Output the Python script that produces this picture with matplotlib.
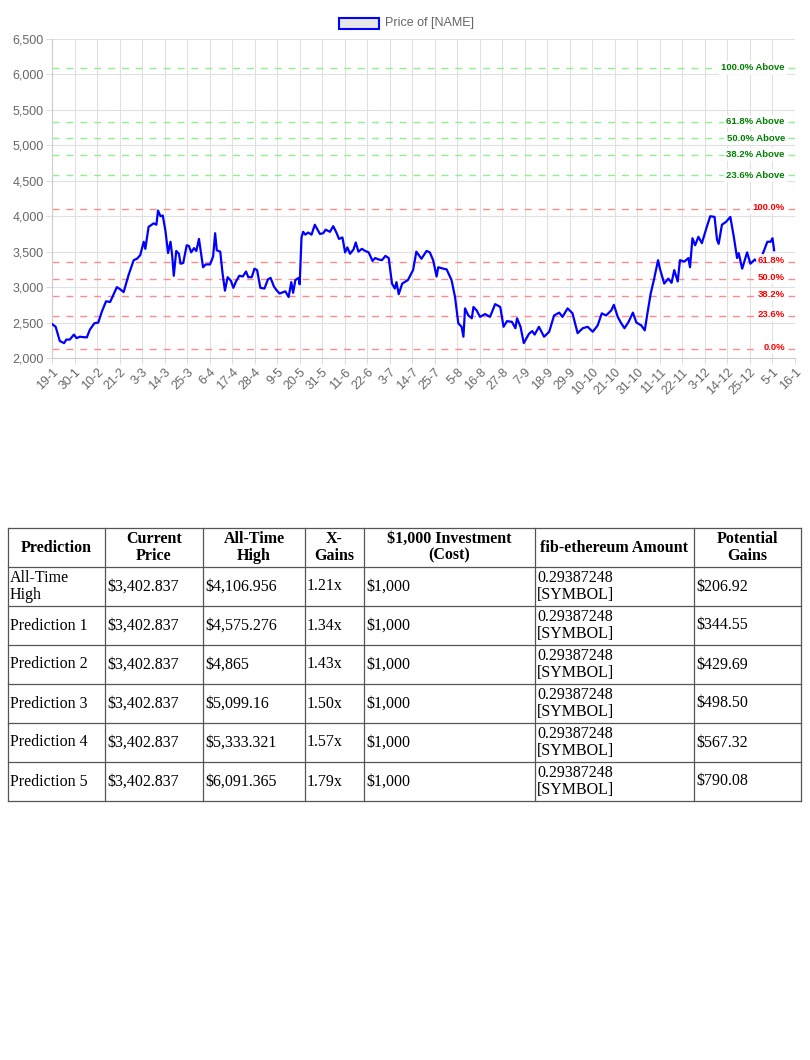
import matplotlib
matplotlib.use("Agg")
import matplotlib.pyplot as plt
from matplotlib.patches import Rectangle
from matplotlib.lines import Line2D

# ---------------- data ----------------
tick_labels = ["19-1","30-1","10-2","21-2","3-3","14-3","25-3","6-4","17-4","28-4","9-5","20-5",
               "31-5","11-6","22-6","3-7","14-7","25-7","5-8","16-8","27-8","7-9","18-9","29-9",
               "10-10","21-10","31-10","11-11","22-11","3-12","14-12","25-12","5-1","16-1"]
days = [0,1.8,3.8,5.9,7,8.7,10.7,12,13.6,17,18.5,20.7,22.6,24.3,26.4,28.4,31.7,33.3,35,37.4,39.9,
        41.5,43.1,44.8,45.6,47.2,49.7,51,51.8,53,54.1,55.4,56.7,57.9,58.7,59.5,60.7,62,62.8,64.1,
        65.8,66.9,68,69.4,70.5,71.8,72.7,73.8,75.1,77.2,78.7,79.7,80.5,82.2,83.3,84.5,85.8,87.4,
        88.6,89.9,91.5,93.2,94.8,95.9,97.6,98.9,100.2,101.8,103.8,105.5,106.8,108.4,109.6,111.2,
        114,115.6,116.9,117.8,118.9,120.5,121,121.9,122.7,123.8,125.1,126.8,128.4,130.9,132.5,
        133.7,135.8,137.4,139.1,140.2,141.9,143.2,144.3,145.6,147.3,148.4,149.7,151.4,153,154.7,
        156.6,157.9,159.6,161.2,162.9,164.5,166.1,167.5,168.3,169.4,171.1,173.9,176.4,178,180.5,
        183,184.6,186.2,187.9,188.7,191.2,192.8,195.2,196.9,198.5,200.1,201,201.8,203.4,205.1,
        205.9,207.5,209.1,211.6,214,216.5,219,220.6,222.3,224.7,226.4,227.2,228.9,230.5,233,
        234.6,235.8,237.9,240.4,242.9,245.3,247.8,249.4,251.9,254.3,256.8,259.3,261.7,264.2,
        266.6,268.6,270.7,273.2,274.5,276.4,278.1,279.7,281.7,283.8,285.5,287.9,289.6,290.9,
        292.5,294.2,296.1,297,299.1,301.1,302.7,304,305.7,306.8,309,310.9,311.7,312.9,314.2,
        315.8,317.5,319.9,321.6,323.7,324.9,325.7,327.3,329.3,331.4,333.1,334.7,335.5,337.2,
        339.6,341.2,343.4,345.4,349.5,351.1,352,352.8]
prices = [2480,2440,2240,2210,2260,2260,2330,2280,2300,2290,2400,2490,2500,2650,2800,2790,3000,2970,
          2930,3170,3380,3400,3450,3640,3540,3850,3900,3880,4080,4000,4010,3800,3480,3640,3450,3160,
          3510,3470,3330,3340,3590,3580,3490,3550,3510,3680,3500,3280,3320,3320,3430,3760,3520,3500,
          3200,2950,3140,3090,2990,3080,3160,3150,3220,3140,3140,3260,3240,2990,2980,3110,3130,3010,
          2960,2910,2940,2860,3070,2920,3100,3130,3040,3700,3780,3740,3770,3740,3880,3750,3760,3810,
          3780,3860,3760,3680,3700,3490,3560,3470,3530,3630,3500,3540,3510,3490,3370,3410,3390,3380,
          3440,3410,3050,2980,3070,2900,3050,3100,3240,3500,3400,3510,3490,3380,3150,3280,3260,3250,
          3100,2860,2490,2440,2300,2700,2600,2560,2720,2670,2580,2620,2580,2760,2720,2440,2520,2510,
          2420,2560,2440,2210,2340,2380,2330,2440,2300,2370,2600,2640,2580,2700,2630,2350,2420,2440,
          2370,2460,2630,2600,2670,2750,2580,2490,2420,2510,2640,2500,2460,2390,2630,2910,3120,3380,
          3260,3050,3120,3060,3240,3080,3380,3360,3410,3280,3690,3590,3710,3620,3850,4000,3990,3670,
          3610,3880,3920,3990,3710,3410,3480,3260,3490,3330,3390,3330,3640,3640,3690,3520]
fib_low = 2122.55
fib_high = 4106.956
fib_ratios = [0.0, 0.236, 0.382, 0.5, 0.618, 1.0]
above_labels = ["23.6% Above", "38.2% Above", "50.0% Above", "61.8% Above", "100.0% Above"]
above_ratios = [0.236, 0.382, 0.5, 0.618, 1.0]

headers = ["Prediction", "Current\nPrice", "All-Time\nHigh", "X-\nGains",
           "$1,000 Investment\n(Cost)", "fib-ethereum Amount", "Potential\nGains"]
row_names = ["All-Time\nHigh", "Prediction 1", "Prediction 2", "Prediction 3", "Prediction 4", "Prediction 5"]
current_price = ["$3,402.837"] * 6
ath_values = ["$4,106.956", "$4,575.276", "$4,865", "$5,099.16", "$5,333.321", "$6,091.365"]
x_gains = ["1.21x", "1.34x", "1.43x", "1.50x", "1.57x", "1.79x"]
investment = ["$1,000"] * 6
amount = ["0.29387248\n[SYMBOL]"] * 6
potential = ["$206.92", "$344.55", "$429.69", "$498.50", "$567.32", "$790.08"]

# ---------------- figure ----------------
W, H = 810, 1060
fig = plt.figure(figsize=(W / 100, H / 100), dpi=100)

ax = fig.add_axes([52 / W, (H - 358) / H, 743 / W, 319 / H])
ax.set_xlim(0, 363)
ax.set_ylim(2000, 6500)
ax.set_xticks([i * 11 for i in range(len(tick_labels))])
ax.set_xticklabels(tick_labels, rotation=45, ha="right", rotation_mode="anchor",
                   fontsize=9, color="#666666", family="Liberation Sans")
ax.set_yticks(range(2000, 6501, 500))
ax.set_yticklabels([f"{v:,}" for v in range(2000, 6501, 500)], fontsize=9,
                   color="#666666", family="Liberation Sans")
ax.grid(True, color="#e0e0e0", linewidth=0.8)
ax.set_axisbelow(True)
for s in ["top", "right"]:
    ax.spines[s].set_visible(False)
for s in ["left", "bottom"]:
    ax.spines[s].set_color("#cccccc")
ax.tick_params(length=4, color="#dddddd", pad=2)

rng = fib_high - fib_low
for r in fib_ratios:
    y = fib_low + r * rng
    ax.axhline(y, color="#ff8a8a", linestyle=(0, (5, 5)), linewidth=1, zorder=1)
    ax.text(358, y + 20, f"{r*100:.1f}%", color="red", fontsize=6.8, fontweight="bold",
            ha="right", va="center", family="Liberation Sans",
            bbox=dict(facecolor="white", edgecolor="none", pad=1.5, alpha=0.9), zorder=5)
for r, lab in zip(above_ratios, above_labels):
    y = fib_high + r * rng
    ax.axhline(y, color="#90f090", linestyle=(0, (5, 5)), linewidth=1, zorder=1)
    ax.text(358, y, lab, color="green", fontsize=6.8, fontweight="bold",
            ha="right", va="center", family="Liberation Sans",
            bbox=dict(facecolor="white", edgecolor="none", pad=1.5, alpha=0.9), zorder=5)

ax.plot(days, prices, color="blue", linewidth=1.6, zorder=4)

# legend
fig.patches.append(Rectangle((339 / W, (H - 29) / H), 40 / W, 11 / H, transform=fig.transFigure,
                             facecolor="#e6e6e6", edgecolor="blue", linewidth=1.5))
fig.text(385 / W, (H - 23) / H, "Price of [NAME]", fontsize=9, color="#666666",
         va="center", family="Liberation Sans")

# ---------------- table ----------------
col_x = [8, 105, 203, 305, 364, 535, 694, 801]
row_y = [528, 567, 606, 645, 684, 723, 762, 801]
rows = list(zip(row_names, current_price, ath_values, x_gains, investment, amount, potential))

def fx(x): return x / W
def fy(y): return (H - y) / H

for y in row_y:
    fig.add_artist(Line2D([fx(col_x[0]), fx(col_x[-1])], [fy(y), fy(y)], color="#555555", lw=0.9))
for x in col_x:
    fig.add_artist(Line2D([fx(x), fx(x)], [fy(row_y[0]), fy(row_y[-1])], color="#555555", lw=0.9))

for j, h in enumerate(headers):
    cx = (col_x[j] + col_x[j + 1]) / 2
    cy = (row_y[0] + row_y[1]) / 2
    fig.text(fx(cx), fy(cy), h, ha="center", va="center", fontsize=11.5, fontweight="bold",
             family="Liberation Serif", linespacing=1.05)
for i, row in enumerate(rows):
    cy = (row_y[i + 1] + row_y[i + 2]) / 2
    for j, val in enumerate(row):
        fig.text(fx(col_x[j] + 2), fy(cy), val, ha="left", va="center", fontsize=11.5,
                 family="Liberation Serif", linespacing=1.05)

fig.savefig("out.png", dpi=100, facecolor="white")
